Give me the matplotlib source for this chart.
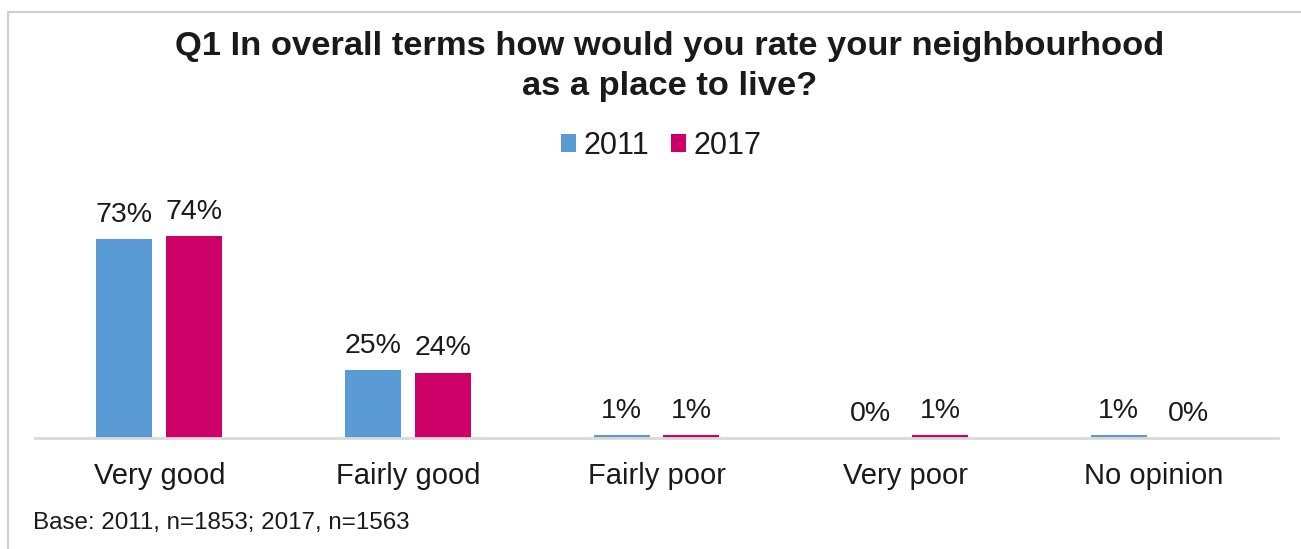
import matplotlib
matplotlib.use("Agg")
import matplotlib.pyplot as plt
import numpy as np
from matplotlib.lines import Line2D

plt.rcParams['font.family'] = ['Liberation Sans', 'DejaVu Sans']

BLUE = "#5B9BD5"
MAGENTA = "#CC0066"
GREY = "#D9D9D9"
TEXT = "#1a1a1a"

categories = ["Very good", "Fairly good", "Fairly poor", "Very poor", "No opinion"]
years = ["2011", "2017"]
vals_2011 = [73, 25, 1, 0, 1]
vals_2017 = [74, 24, 1, 1, 0]

W, H = 1301, 549
fig = plt.figure(figsize=(W / 100, H / 100), dpi=100)

# chart frame (light grey border, runs off the right/bottom edge)
fig.add_artist(Line2D([8 / W, 8 / W], [0, 1 - 12 / H], color="#D0D0D0", lw=1.5))
fig.add_artist(Line2D([8 / W, 1], [1 - 12 / H, 1 - 12 / H], color="#D0D0D0", lw=1.5))

# axes placed in pixel terms: baseline y=438, x from 35 to 1278
ax = fig.add_axes([35 / W, 1 - 438 / H, (1278 - 35) / W, (438 - 190) / H])
x = np.arange(len(categories))
bw = 0.225
gap = 0.056
off = bw / 2 + gap / 2

b1 = ax.bar(x - off, vals_2011, bw, color=BLUE, label=years[0])
b2 = ax.bar(x + off, vals_2017, bw, color=MAGENTA, label=years[1])

for bars, vals in ((b1, vals_2011), (b2, vals_2017)):
    for rect, v in zip(bars, vals):
        ax.annotate(f"{v}%", (rect.get_x() + rect.get_width() / 2, v),
                    xytext=(0, 8), textcoords="offset points",
                    ha="center", va="bottom", fontsize=20.5, color=TEXT)

ax.set_xlim(-0.5, len(categories) - 0.5)
ax.set_ylim(0, 91)
ax.set_xticks(x)
ax.set_xticklabels(categories, fontsize=21, color=TEXT)
ax.tick_params(axis="x", length=0, pad=17)
ax.set_yticks([])
for s in ("top", "right", "left"):
    ax.spines[s].set_visible(False)
ax.spines["bottom"].set_color(GREY)
ax.spines["bottom"].set_linewidth(2)

fig.text(670 / W, 1 - 46 / H, "Q1 In overall terms how would you rate your neighbourhood",
         ha="center", va="center", fontsize=24.8, fontweight="bold", color=TEXT)
fig.text(670 / W, 1 - 87 / H, "as a place to live?",
         ha="center", va="center", fontsize=24.8, fontweight="bold", color=TEXT)

fig.legend(handles=[b1, b2], labels=years, loc="center", bbox_to_anchor=(661 / W, 1 - 146 / H),
           ncol=2, frameon=False, fontsize=22, handlelength=0.5, handleheight=0.5,
           handletextpad=0.25, columnspacing=0.7, labelcolor=TEXT)

fig.text(33 / W, 1 - 523 / H, "Base: 2011, n=1853; 2017, n=1563",
         ha="left", va="center", fontsize=17.4, color=TEXT)

fig.savefig("out.png", dpi=100)
